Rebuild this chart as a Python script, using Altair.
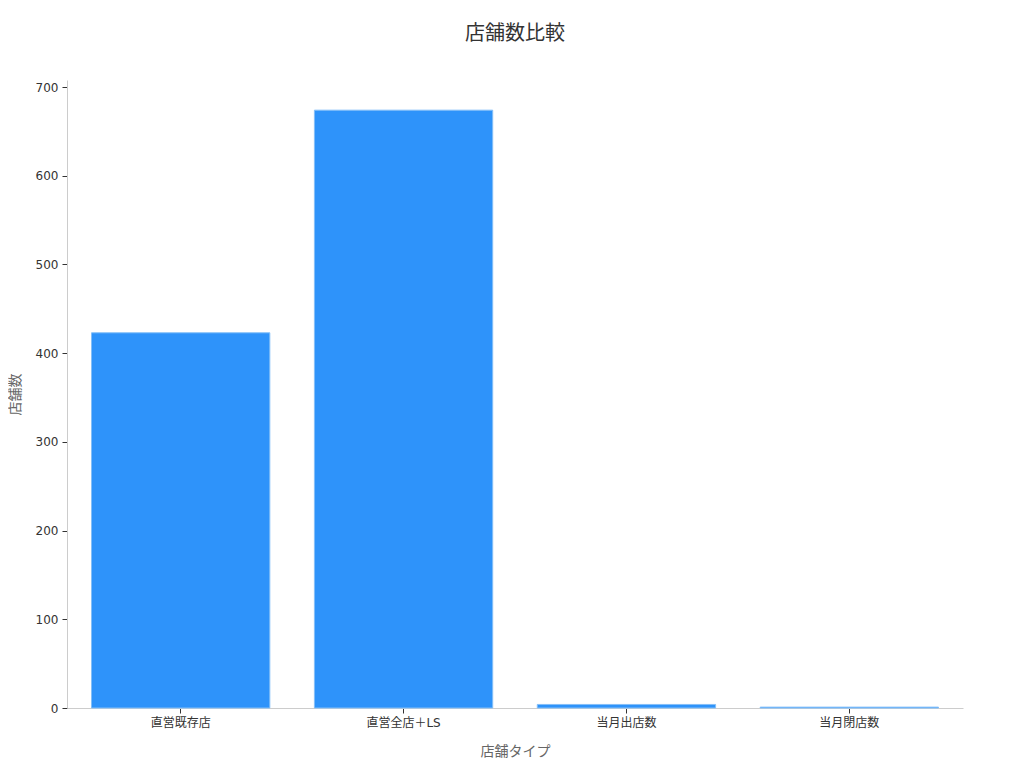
import altair as alt
import pandas as pd

categories = ["直営既存店", "直営全店＋LS", "当月出店数", "当月閉店数"]
values = [423, 674, 4, 1]

df = pd.DataFrame({"type": categories, "count": values})

FONT = "DejaVu Sans, Noto Sans CJK JP, sans-serif"

chart = alt.Chart(df, title=alt.TitleParams(
    "店舗数比較", fontSize=20, font=FONT, color="#333333", fontWeight="normal",
    anchor="middle", offset=36)).mark_bar(
    color="#2E93FA", stroke="#84BFF8", strokeWidth=1
).encode(
    x=alt.X("type:N", sort=categories, title="店舗タイプ",
            scale=alt.Scale(paddingInner=0.2, paddingOuter=0.11),
            axis=alt.Axis(labelAngle=0, labelFontSize=12, labelColor="#333333",
                          titleFontSize=14, titleColor="#666666", titleFontWeight="normal",
                          domainColor="#cccccc", tickColor="#333333", tickSize=5,
                          labelPadding=4, titlePadding=16)),
    y=alt.Y("count:Q", title="店舗数",
            scale=alt.Scale(domain=[0, 708], nice=False),
            axis=alt.Axis(values=[0, 100, 200, 300, 400, 500, 600, 700], grid=False,
                          labelFontSize=12, labelColor="#333333",
                          titleFontSize=14, titleColor="#666666", titleFontWeight="normal",
                          domainColor="#cccccc", tickColor="#333333", tickSize=5,
                          labelPadding=4, titlePadding=13)),
).properties(
    width=896, height=628,
    autosize=alt.AutoSizeParams(type="none"),
    padding={"left": 59, "top": 72, "right": 50, "bottom": 60},
).configure(font=FONT).configure_view(strokeWidth=0, stroke="transparent")

chart.save("out.html", embed_options={"renderer": "svg", "actions": False})
